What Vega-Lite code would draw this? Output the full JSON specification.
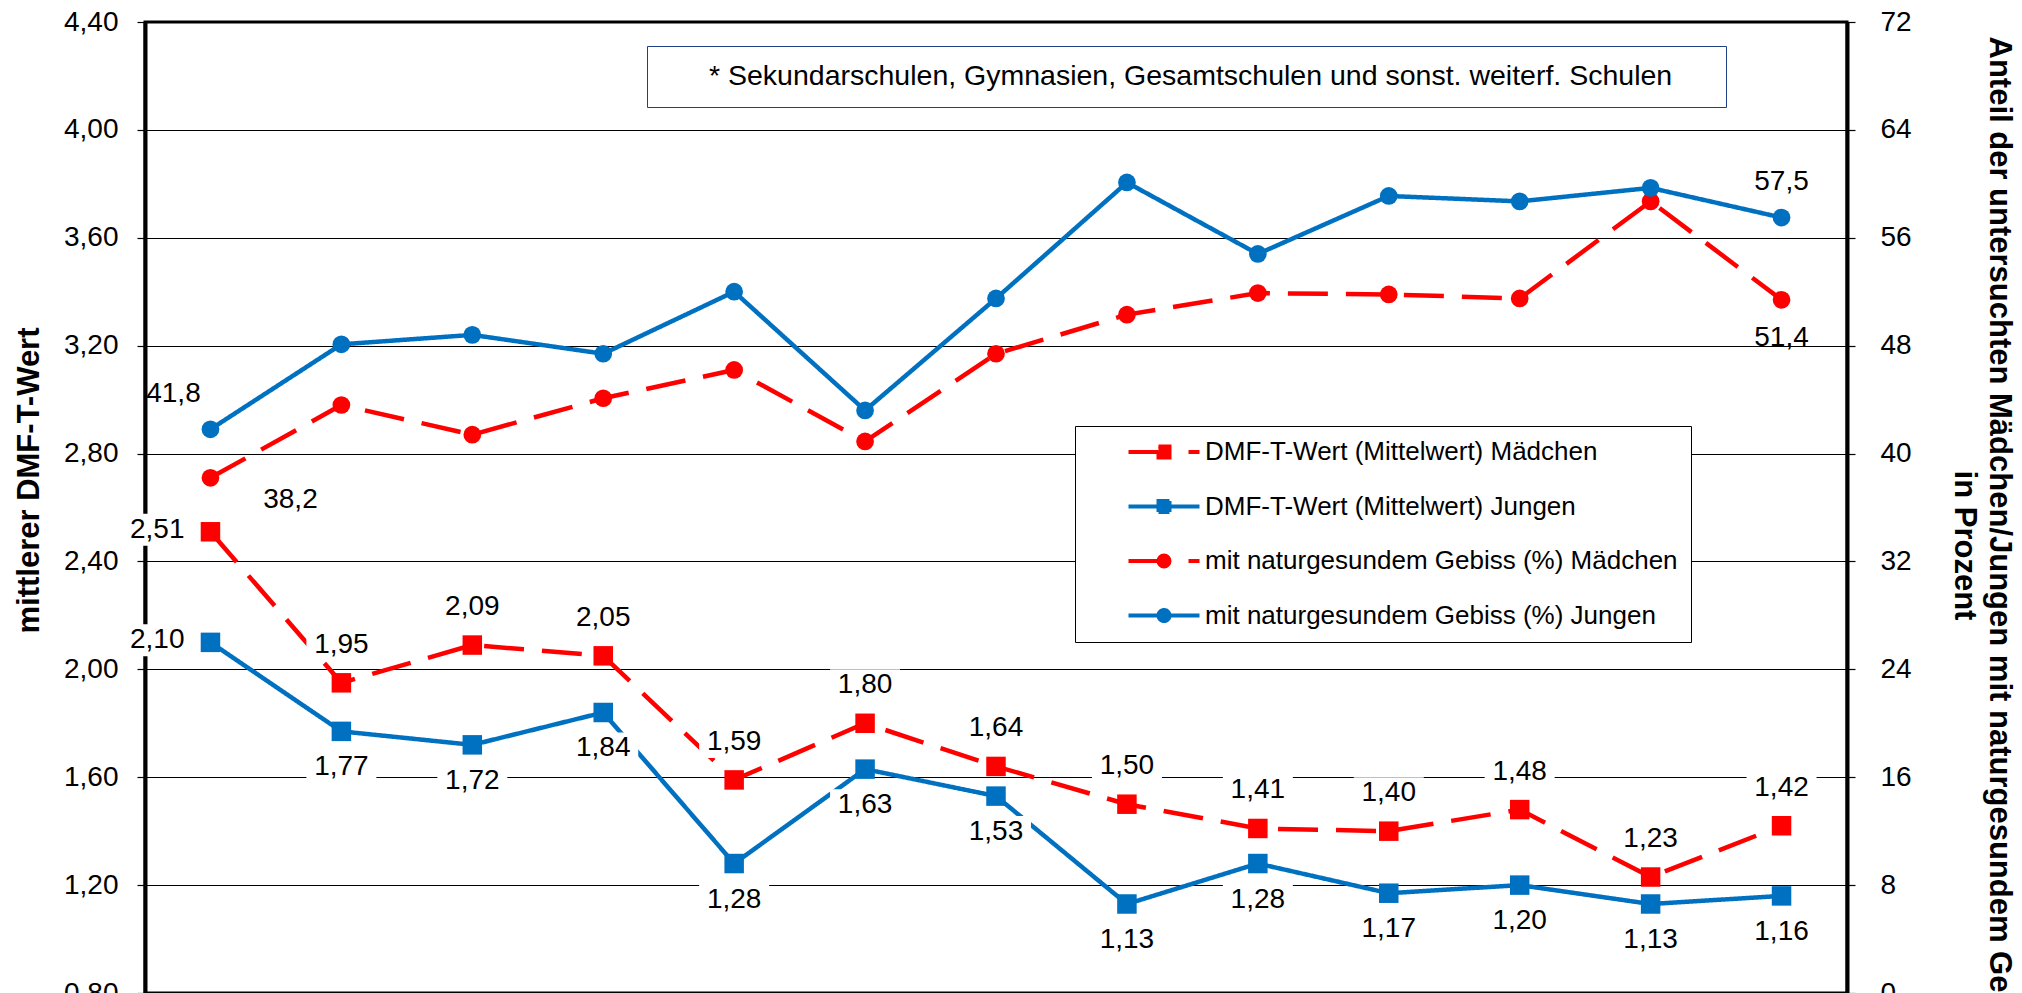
{
  "$schema": "https://vega.github.io/schema/vega-lite/v6.json",
  "width": 1702,
  "height": 971,
  "autosize": {"type": "none"},
  "padding": {"left": 145, "top": 22, "right": 175, "bottom": 0},
  "config": {
    "locale": {"number": {"decimal": ",", "thousands": ".", "grouping": [3], "currency": ["", " €"]}},
    "font": "Liberation Sans",
    "view": {"stroke": "black", "strokeWidth": 3},
    "axis": {"labelFont": "Liberation Sans", "labelColor": "black", "titleColor": "black", "titleFont": "Liberation Sans"}
  },
  "data": {
    "values": [
      {"nr": 1, "reihe": "DMF-T-Wert (Mittelwert) Mädchen", "wert": 2.51},
      {"nr": 2, "reihe": "DMF-T-Wert (Mittelwert) Mädchen", "wert": 1.95},
      {"nr": 3, "reihe": "DMF-T-Wert (Mittelwert) Mädchen", "wert": 2.09},
      {"nr": 4, "reihe": "DMF-T-Wert (Mittelwert) Mädchen", "wert": 2.05},
      {"nr": 5, "reihe": "DMF-T-Wert (Mittelwert) Mädchen", "wert": 1.59},
      {"nr": 6, "reihe": "DMF-T-Wert (Mittelwert) Mädchen", "wert": 1.80},
      {"nr": 7, "reihe": "DMF-T-Wert (Mittelwert) Mädchen", "wert": 1.64},
      {"nr": 8, "reihe": "DMF-T-Wert (Mittelwert) Mädchen", "wert": 1.50},
      {"nr": 9, "reihe": "DMF-T-Wert (Mittelwert) Mädchen", "wert": 1.41},
      {"nr": 10, "reihe": "DMF-T-Wert (Mittelwert) Mädchen", "wert": 1.40},
      {"nr": 11, "reihe": "DMF-T-Wert (Mittelwert) Mädchen", "wert": 1.48},
      {"nr": 12, "reihe": "DMF-T-Wert (Mittelwert) Mädchen", "wert": 1.23},
      {"nr": 13, "reihe": "DMF-T-Wert (Mittelwert) Mädchen", "wert": 1.42},
      {"nr": 1, "reihe": "DMF-T-Wert (Mittelwert) Jungen", "wert": 2.10},
      {"nr": 2, "reihe": "DMF-T-Wert (Mittelwert) Jungen", "wert": 1.77},
      {"nr": 3, "reihe": "DMF-T-Wert (Mittelwert) Jungen", "wert": 1.72},
      {"nr": 4, "reihe": "DMF-T-Wert (Mittelwert) Jungen", "wert": 1.84},
      {"nr": 5, "reihe": "DMF-T-Wert (Mittelwert) Jungen", "wert": 1.28},
      {"nr": 6, "reihe": "DMF-T-Wert (Mittelwert) Jungen", "wert": 1.63},
      {"nr": 7, "reihe": "DMF-T-Wert (Mittelwert) Jungen", "wert": 1.53},
      {"nr": 8, "reihe": "DMF-T-Wert (Mittelwert) Jungen", "wert": 1.13},
      {"nr": 9, "reihe": "DMF-T-Wert (Mittelwert) Jungen", "wert": 1.28},
      {"nr": 10, "reihe": "DMF-T-Wert (Mittelwert) Jungen", "wert": 1.17},
      {"nr": 11, "reihe": "DMF-T-Wert (Mittelwert) Jungen", "wert": 1.20},
      {"nr": 12, "reihe": "DMF-T-Wert (Mittelwert) Jungen", "wert": 1.13},
      {"nr": 13, "reihe": "DMF-T-Wert (Mittelwert) Jungen", "wert": 1.16},
      {"nr": 1, "reihe": "mit naturgesundem Gebiss (%) Mädchen", "wert": 38.2},
      {"nr": 2, "reihe": "mit naturgesundem Gebiss (%) Mädchen", "wert": 43.6},
      {"nr": 3, "reihe": "mit naturgesundem Gebiss (%) Mädchen", "wert": 41.4},
      {"nr": 4, "reihe": "mit naturgesundem Gebiss (%) Mädchen", "wert": 44.1},
      {"nr": 5, "reihe": "mit naturgesundem Gebiss (%) Mädchen", "wert": 46.2},
      {"nr": 6, "reihe": "mit naturgesundem Gebiss (%) Mädchen", "wert": 40.9},
      {"nr": 7, "reihe": "mit naturgesundem Gebiss (%) Mädchen", "wert": 47.4},
      {"nr": 8, "reihe": "mit naturgesundem Gebiss (%) Mädchen", "wert": 50.3},
      {"nr": 9, "reihe": "mit naturgesundem Gebiss (%) Mädchen", "wert": 51.9},
      {"nr": 10, "reihe": "mit naturgesundem Gebiss (%) Mädchen", "wert": 51.8},
      {"nr": 11, "reihe": "mit naturgesundem Gebiss (%) Mädchen", "wert": 51.5},
      {"nr": 12, "reihe": "mit naturgesundem Gebiss (%) Mädchen", "wert": 58.7},
      {"nr": 13, "reihe": "mit naturgesundem Gebiss (%) Mädchen", "wert": 51.4},
      {"nr": 1, "reihe": "mit naturgesundem Gebiss (%) Jungen", "wert": 41.8},
      {"nr": 2, "reihe": "mit naturgesundem Gebiss (%) Jungen", "wert": 48.1},
      {"nr": 3, "reihe": "mit naturgesundem Gebiss (%) Jungen", "wert": 48.8},
      {"nr": 4, "reihe": "mit naturgesundem Gebiss (%) Jungen", "wert": 47.4},
      {"nr": 5, "reihe": "mit naturgesundem Gebiss (%) Jungen", "wert": 52.0},
      {"nr": 6, "reihe": "mit naturgesundem Gebiss (%) Jungen", "wert": 43.2},
      {"nr": 7, "reihe": "mit naturgesundem Gebiss (%) Jungen", "wert": 51.5},
      {"nr": 8, "reihe": "mit naturgesundem Gebiss (%) Jungen", "wert": 60.1},
      {"nr": 9, "reihe": "mit naturgesundem Gebiss (%) Jungen", "wert": 54.8},
      {"nr": 10, "reihe": "mit naturgesundem Gebiss (%) Jungen", "wert": 59.1},
      {"nr": 11, "reihe": "mit naturgesundem Gebiss (%) Jungen", "wert": 58.7},
      {"nr": 12, "reihe": "mit naturgesundem Gebiss (%) Jungen", "wert": 59.7},
      {"nr": 13, "reihe": "mit naturgesundem Gebiss (%) Jungen", "wert": 57.5}
    ]
  },
  "encoding": {
    "x": {
      "field": "nr",
      "type": "ordinal",
      "scale": {"type": "point", "padding": 0.5},
      "axis": {"labels": false, "ticks": false, "domain": false, "title": null, "grid": false}
    }
  },
  "layer": [
    {
      "transform": [{"filter": {"field": "reihe", "oneOf": ["DMF-T-Wert (Mittelwert) Mädchen", "DMF-T-Wert (Mittelwert) Jungen"]}}],
      "encoding": {
        "y": {
          "field": "wert",
          "type": "quantitative",
          "scale": {"domain": [0.8, 4.4], "nice": false, "zero": false},
          "axis": {
            "orient": "left",
            "values": [0.8, 1.2, 1.6, 2, 2.4, 2.8, 3.2, 3.6, 4, 4.4],
            "format": ".2f",
            "grid": true,
            "gridColor": "black",
            "gridWidth": 1.2,
            "gridOpacity": 1,
            "domainColor": "black",
            "domainWidth": 4,
            "tickColor": "black",
            "tickSize": 8,
            "tickWidth": 1.2,
            "labelFontSize": 28,
            "labelPadding": 19,
            "title": "mittlerer DMF-T-Wert",
            "titleFontSize": 31,
            "titleFontWeight": "bold",
            "titleAngle": -90,
            "titleBaseline": "middle",
            "titleAlign": "center",
            "titleX": -116,
            "titleY": 458,
            "titleLimit": 2000
          }
        }
      },
      "layer": [
        {
          "mark": {"type": "line", "strokeWidth": 4.5},
          "encoding": {
            "color": {
              "field": "reihe",
              "type": "nominal",
              "scale": {
                "domain": ["DMF-T-Wert (Mittelwert) Mädchen", "DMF-T-Wert (Mittelwert) Jungen", "mit naturgesundem Gebiss (%) Mädchen", "mit naturgesundem Gebiss (%) Jungen"],
                "range": ["#FF0000", "#0070C0", "#FF0000", "#0070C0"]
              },
              "legend": {
                "orient": "none",
                "legendX": 930,
                "legendY": 404,
                "title": null,
                "padding": 13,
                "rowPadding": 26.5,
                "symbolSize": 400,
                "symbolStrokeWidth": 4,
                "symbolOffset": 63,
                "labelOffset": 28,
                "labelFontSize": 26,
                "labelFont": "Liberation Sans",
                "labelColor": "black",
                "labelLimit": 900,
                "strokeColor": "black",
                "fillColor": "white",
                "encode": {
                  "symbols": {
                    "update": {
                      "shape": {"signal": "['M-3.55,0H-0.55M-0.55,-0.55H0.55V0.55H-0.55ZM2.45,0H3.55', 'M-3.55,0H3.55M-0.55,-0.55H0.55V0.55H-0.55Z', 'M-3.55,0H-0.55M0.55,0A0.55,0.55,0,1,1,-0.55,0A0.55,0.55,0,1,1,0.55,0ZM2.45,0H3.55', 'M-3.55,0H3.55M0.55,0A0.55,0.55,0,1,1,-0.55,0A0.55,0.55,0,1,1,0.55,0Z'][datum.index]"},
                      "fill": {"scale": "color", "field": "value"},
                      "stroke": {"scale": "color", "field": "value"},
                      "strokeWidth": {"value": 4},
                      "opacity": {"value": 1}
                    }
                  }
                }
              }
            },
            "strokeDash": {
              "field": "reihe",
              "type": "nominal",
              "scale": {
                "domain": ["DMF-T-Wert (Mittelwert) Mädchen", "DMF-T-Wert (Mittelwert) Jungen", "mit naturgesundem Gebiss (%) Mädchen", "mit naturgesundem Gebiss (%) Jungen"],
                "range": [[40, 18], [1, 0], [40, 18], [1, 0]]
              },
              "legend": null
            }
          }
        },
        {
          "mark": {"type": "point", "shape": "square", "filled": true, "size": 380, "opacity": 1},
          "encoding": {"color": {"field": "reihe", "type": "nominal"}}
        },
        {
          "transform": [{"filter": "datum.nr > 1 && datum.reihe == 'DMF-T-Wert (Mittelwert) Mädchen'"}],
          "mark": {"type": "point", "shape": "M-3.5,-5.4H3.5V-2.2H-3.5Z", "size": 400, "filled": true, "color": "white", "opacity": 1, "strokeWidth": 0}
        },
        {
          "transform": [{"filter": "datum.nr > 1 && datum.reihe == 'DMF-T-Wert (Mittelwert) Jungen'"}],
          "mark": {"type": "point", "shape": "M-3.5,2H3.5V5.2H-3.5Z", "size": 400, "filled": true, "color": "white", "opacity": 1, "strokeWidth": 0}
        },
        {
          "transform": [{"filter": "datum.nr == 1"}],
          "mark": {"type": "point", "shape": "M-8.4,-1.8H-2.2V1.4H-8.4Z", "size": 400, "filled": true, "color": "white", "opacity": 1, "strokeWidth": 0}
        },
        {
          "transform": [{"filter": "datum.nr > 1 && datum.reihe == 'DMF-T-Wert (Mittelwert) Mädchen'"}],
          "mark": {"type": "text", "fontSize": 28, "baseline": "middle", "align": "center", "dy": -38, "color": "black"},
          "encoding": {"text": {"field": "wert", "type": "quantitative", "format": ".2f"}}
        },
        {
          "transform": [{"filter": "datum.nr > 1 && datum.reihe == 'DMF-T-Wert (Mittelwert) Jungen'"}],
          "mark": {"type": "text", "fontSize": 28, "baseline": "middle", "align": "center", "dy": 36, "color": "black"},
          "encoding": {"text": {"field": "wert", "type": "quantitative", "format": ".2f"}}
        },
        {
          "transform": [{"filter": "datum.nr == 1"}],
          "mark": {"type": "text", "fontSize": 28, "baseline": "middle", "align": "right", "dx": -26, "dy": -2, "color": "black"},
          "encoding": {"text": {"field": "wert", "type": "quantitative", "format": ".2f"}}
        }
      ]
    },
    {
      "transform": [{"filter": {"field": "reihe", "oneOf": ["mit naturgesundem Gebiss (%) Mädchen", "mit naturgesundem Gebiss (%) Jungen"]}}],
      "encoding": {
        "y": {
          "field": "wert",
          "type": "quantitative",
          "scale": {"domain": [0, 72], "nice": false, "zero": false},
          "axis": {
            "orient": "right",
            "values": [0, 8, 16, 24, 32, 40, 48, 56, 64, 72],
            "format": "d",
            "grid": false,
            "domainColor": "black",
            "domainWidth": 4,
            "tickColor": "black",
            "tickSize": 8,
            "tickWidth": 1.2,
            "labelFontSize": 28,
            "labelPadding": 25,
            "title": ["Anteil der untersuchten Mädchen/Jungen mit naturgesundem Gebiss", "in Prozent"],
            "titleFontSize": 31,
            "titleFontWeight": "bold",
            "titleAngle": 90,
            "titleBaseline": "middle",
            "titleAlign": "center",
            "titleLineHeight": 35,
            "titleX": 151,
            "titleY": 523,
            "titleLimit": 3000
          }
        }
      },
      "layer": [
        {
          "mark": {"type": "line", "strokeWidth": 4.5},
          "encoding": {
            "color": {"field": "reihe", "type": "nominal"},
            "strokeDash": {"field": "reihe", "type": "nominal", "legend": null}
          }
        },
        {
          "mark": {"type": "point", "shape": "circle", "filled": true, "size": 314},
          "encoding": {
            "color": {"field": "reihe", "type": "nominal"},
            "opacity": {
              "field": "nr",
              "type": "ordinal",
              "scale": {"range": [1, 1]},
              "legend": {
                "title": " ",
                "titleOrient": "right",
                "titlePadding": 38,
                "titleFontSize": 28.5,
                "values": [1],
                "labelExpr": "'* Sekundarschulen, Gymnasien, Gesamtschulen und sonst. weiterf. Schulen'",
                "orient": "none",
                "legendX": 502,
                "legendY": 24,
                "padding": 16,
                "symbolSize": 0,
                "symbolOpacity": 0,
                "symbolStrokeWidth": 0,
                "labelOffset": 17.5,
                "labelFont": "Liberation Sans",
                "labelFontSize": 28.5,
                "labelColor": "black",
                "labelLimit": 3000,
                "strokeColor": "#1F3F86",
                "fillColor": "white"
              }
            }
          }
        },
        {
          "transform": [{"filter": "datum.nr == 1 && datum.reihe == 'mit naturgesundem Gebiss (%) Jungen'"}],
          "mark": {"type": "text", "fontSize": 28, "baseline": "middle", "align": "center", "dx": -37, "dy": -35, "color": "black"},
          "encoding": {"text": {"field": "wert", "type": "quantitative", "format": ".1f"}}
        },
        {
          "transform": [{"filter": "datum.nr == 1 && datum.reihe == 'mit naturgesundem Gebiss (%) Mädchen'"}],
          "mark": {"type": "text", "fontSize": 28, "baseline": "middle", "align": "center", "dx": 80, "dy": 22, "color": "black"},
          "encoding": {"text": {"field": "wert", "type": "quantitative", "format": ".1f"}}
        },
        {
          "transform": [{"filter": "datum.nr == 13 && datum.reihe == 'mit naturgesundem Gebiss (%) Jungen'"}],
          "mark": {"type": "text", "fontSize": 28, "baseline": "middle", "align": "center", "dy": -36, "color": "black"},
          "encoding": {"text": {"field": "wert", "type": "quantitative", "format": ".1f"}}
        },
        {
          "transform": [{"filter": "datum.nr == 13 && datum.reihe == 'mit naturgesundem Gebiss (%) Mädchen'"}],
          "mark": {"type": "text", "fontSize": 28, "baseline": "middle", "align": "center", "dy": 38, "color": "black"},
          "encoding": {"text": {"field": "wert", "type": "quantitative", "format": ".1f"}}
        }
      ]
    }
  ],
  "resolve": {"scale": {"y": "independent"}}
}
